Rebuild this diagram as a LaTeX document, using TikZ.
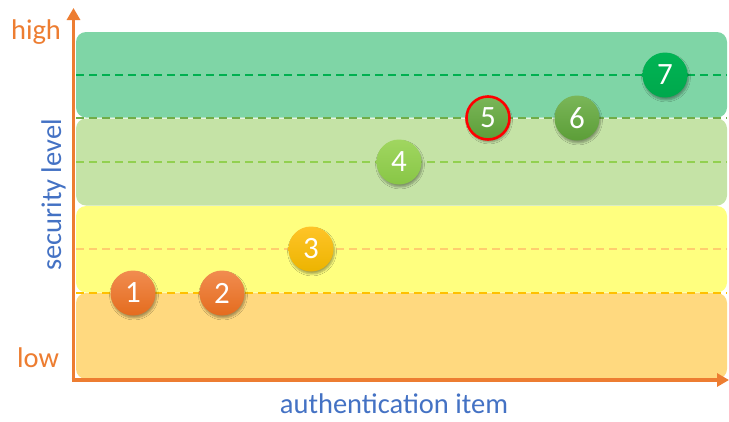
\documentclass[tikz,border=0pt]{standalone}
\usepackage{fontspec}
\setmainfont{Carlito}
\usetikzlibrary{arrows.meta,shadows.blur}
\definecolor{bandA}{RGB}{127,213,166}
\definecolor{bandB}{RGB}{197,227,166}
\definecolor{bandC}{RGB}{255,255,127}
\definecolor{bandD}{RGB}{255,217,127}
\definecolor{axisor}{RGB}{237,125,49}
\definecolor{txtblue}{RGB}{68,114,196}
\definecolor{cOrTop}{RGB}{241,140,80}
\definecolor{cOrBot}{RGB}{228,108,30}
\definecolor{cGoTop}{RGB}{255,196,40}
\definecolor{cGoBot}{RGB}{236,180,0}
\definecolor{cLgTop}{RGB}{160,214,96}
\definecolor{cLgBot}{RGB}{136,198,70}
\definecolor{cGrTop}{RGB}{122,182,88}
\definecolor{cGrBot}{RGB}{92,158,56}
\definecolor{cDgTop}{RGB}{0,180,84}
\definecolor{cDgBot}{RGB}{0,168,76}
\definecolor{lnA}{RGB}{0,176,80}
\definecolor{lnB}{RGB}{112,173,71}
\definecolor{lnC}{RGB}{146,208,80}
\definecolor{lnD}{RGB}{255,205,110}
\definecolor{lnE}{RGB}{255,192,0}
\tikzset{
  band/.style={rounded corners=10pt},
  lvl/.style={dashed, dash pattern=on 8pt off 5pt, line width=1.5pt},
  axisline/.style={draw=axisor, line width=3.8pt, -{Triangle[width=13pt,length=12pt]}},
  dot/.style={circle, minimum size=45pt, inner sep=0pt, text=white,
    font=\fontsize{31}{31}\selectfont,
    blur shadow={shadow xshift=1pt, shadow yshift=-2.5pt, shadow opacity=35, shadow blur steps=6}},
  lbl/.style={font=\fontsize{28.5}{28.5}\selectfont}
}
\begin{document}
\begin{tikzpicture}[x=1pt,y=-1pt]
\useasboundingbox[fill=white] (0,0) rectangle (729,421);
% bands
\fill[band,bandA] (76,32) rectangle (727,117.5);
\fill[band,bandB] (76,118.5) rectangle (727,205.5);
\fill[band,bandC] (76,206) rectangle (727,292.5);
\fill[band,bandD] (76,293) rectangle (727,379);
% level lines
\draw[lvl,lnA] (76,75) -- (727,75);
\draw[lvl,lnB] (76,118) -- (727,118);
\draw[lvl,lnC] (76,162) -- (727,162);
\draw[lvl,lnD] (76,249) -- (727,249);
\draw[lvl,lnE] (76,293) -- (727,293);
% axes
\coordinate (orig) at (73.5,380);
\coordinate (ytip) at (73.5,8);
\coordinate (xtip) at (729,380);
\draw[axisline] ([yshift=-1.9pt]orig) -- (ytip);
\draw[axisline] ([xshift=-1.9pt]orig) -- (xtip);
% labels
\node[lbl, text=axisor, anchor=base] (high) at (36,39) {high};
\node[lbl, text=axisor, anchor=base] (low) at (38,367) {low};
\node[lbl, text=txtblue, rotate=90, anchor=base] (ylab) at (61,195) {security level};
\node[lbl, text=txtblue, anchor=base] (xlab) at (394,413) {authentication item};
% circles
\node[dot, top color=cOrTop, bottom color=cOrBot] (c1) at (133,293) {1};
\node[dot, top color=cOrTop, bottom color=cOrBot] (c2) at (222,293) {2};
\node[dot, top color=cGoTop, bottom color=cGoBot] (c3) at (311,249) {3};
\node[dot, top color=cLgTop, bottom color=cLgBot] (c4) at (399,162) {4};
\node[dot, top color=cGrTop, bottom color=cGrBot, draw=red, line width=2.6pt, minimum size=43pt] (c5) at (488,118) {5};
\node[dot, top color=cGrTop, bottom color=cGrBot] (c6) at (577,118) {6};
\node[dot, top color=cDgTop, bottom color=cDgBot] (c7) at (665,75) {7};
\end{tikzpicture}
\end{document}
